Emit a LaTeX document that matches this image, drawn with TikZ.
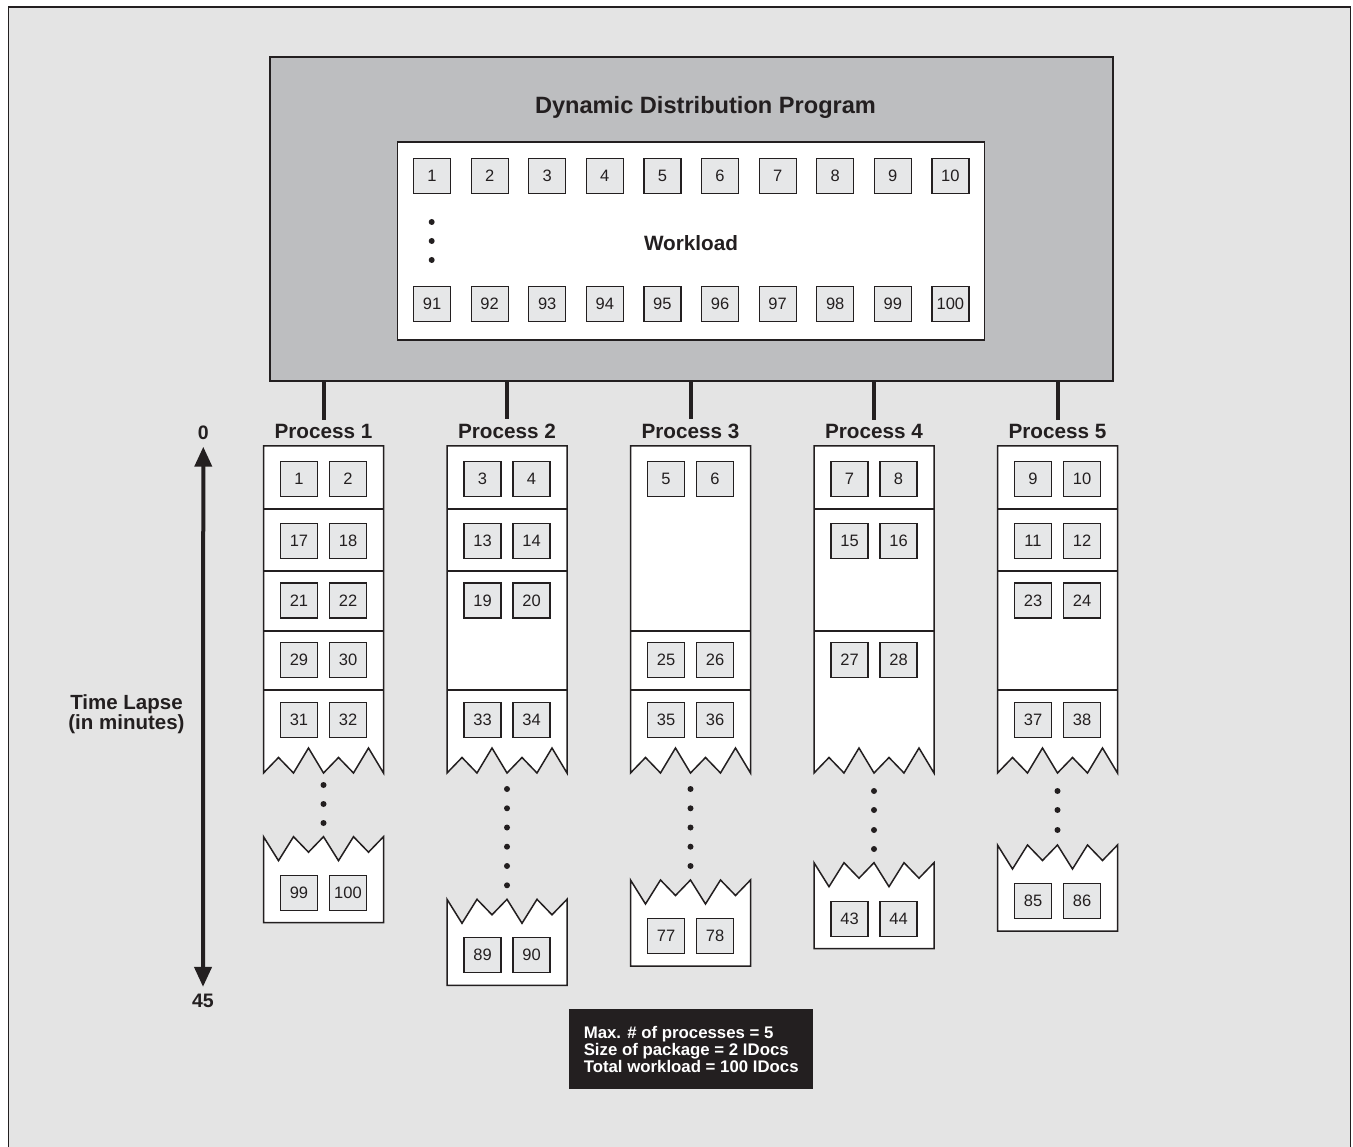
\documentclass[tikz,border=0pt]{standalone}
\usepackage{fontspec}
\setmainfont{Liberation Sans}
\definecolor{colorFrame}{HTML}{E4E4E4}
\definecolor{colorProgram}{HTML}{BDBEC0}
\definecolor{colorPacket}{HTML}{E6E7E8}
\definecolor{colorInk}{HTML}{231F20}
\usetikzlibrary{arrows.meta, positioning}
\tikzset{tearup/.style={insert path={-- ++(-15,-25) -- ++(-15,25) -- ++(-15,-15.5) -- ++(-15,15.5) -- ++(-15,-25) -- ++(-15,25) -- ++(-15,-15.5) -- ++(-15,15.5)}}}
\tikzset{teardown/.style={insert path={-- ++(15,24) -- ++(15,-24) -- ++(15,15.5) -- ++(15,-15.5) -- ++(15,24) -- ++(15,-24) -- ++(15,15.5) -- ++(15,-15.5)}}}
\begin{document}
\begin{tikzpicture}[x=1pt, y=-1pt, >={Triangle[length=20pt, width=17pt]}, line join=miter,
  frame/.style={draw=colorInk, line width=1.8pt},
  prog/.style={draw=colorInk, fill=colorProgram, line width=1.5pt, minimum width=843pt, minimum height=324pt},
  wlbox/.style={draw=colorInk, fill=white, line width=1.5pt, minimum width=587pt, minimum height=198pt},
  heading/.style={text=colorInk, font=\fontsize{20.7}{24}\selectfont\bfseries, inner sep=5pt},
  pkt/.style={draw=colorInk, fill=colorPacket, line width=1.2pt, minimum width=37pt, minimum height=35pt, inner sep=0pt, outer sep=0pt, text=colorInk, font=\fontsize{16.5}{18}\selectfont},
  paper/.style={draw=colorInk, fill=white, line width=1.5pt},
  divider/.style={draw=colorInk, line width=1.5pt},
  link/.style={draw=colorInk, line width=4pt},
  timeaxis/.style={draw=colorInk, line width=4pt},
  axislabel/.style={text=colorInk, font=\fontsize{19.5}{18}\selectfont\bfseries, inner sep=7pt},
  infobox/.style={fill=colorInk, text=white, minimum width=244pt, minimum height=80pt, align=left, font=\fontsize{16.8}{17.3}\selectfont\bfseries}]
\useasboundingbox (0,0) rectangle (1353,1147);
\fill[colorFrame] (8.5,6.7) rectangle (1350.5,1147);
\draw[frame] (8.5,1147) -- (8.5,6.7) -- (1350.5,6.7) -- (1350.5,1147);
\node[prog] (prog) at (691.5,219) {};
\node[heading, font=\fontsize{23.6}{26}\selectfont\bfseries, anchor=base] (title) at (705.5,114) {Dynamic Distribution Program};
\node[wlbox] (wl) at (691.2,240.9) {};
\node[heading, anchor=base] (wltext) at (691,251) {Workload};
\node[pkt] (w1) at (432,176) {1};
\node[pkt, right=20.6pt of w1] (w2) {2};
\node[pkt, right=20.6pt of w2] (w3) {3};
\node[pkt, right=20.6pt of w3] (w4) {4};
\node[pkt, right=20.6pt of w4] (w5) {5};
\node[pkt, right=20.6pt of w5] (w6) {6};
\node[pkt, right=20.6pt of w6] (w7) {7};
\node[pkt, right=20.6pt of w7] (w8) {8};
\node[pkt, right=20.6pt of w8] (w9) {9};
\node[pkt, right=20.6pt of w9] (w10) {10};
\fill[colorInk] (431.7,222) circle (3pt) (431.7,241) circle (3pt) (431.7,260) circle (3pt);
\node[pkt] (w91) at (432,304) {91};
\node[pkt, right=20.6pt of w91] (w92) {92};
\node[pkt, right=20.6pt of w92] (w93) {93};
\node[pkt, right=20.6pt of w93] (w94) {94};
\node[pkt, right=20.6pt of w94] (w95) {95};
\node[pkt, right=20.6pt of w95] (w96) {96};
\node[pkt, right=20.6pt of w96] (w97) {97};
\node[pkt, right=20.6pt of w97] (w98) {98};
\node[pkt, right=20.6pt of w98] (w99) {99};
\node[pkt, right=20.6pt of w99] (w100) {100};
\node[heading, anchor=base] (h1) at (323.5,439) {Process 1};
\node[heading, anchor=base] (h2) at (507,439) {Process 2};
\node[heading, anchor=base] (h3) at (690.5,439) {Process 3};
\node[heading, anchor=base] (h4) at (874,439) {Process 4};
\node[heading, anchor=base] (h5) at (1057.5,439) {Process 5};
\draw[link] (prog.south -| h1) -- (h1.north);
\draw[link] (prog.south -| h2) -- (h2.north);
\draw[link] (prog.south -| h3) -- (h3.north);
\draw[link] (prog.south -| h4) -- (h4.north);
\draw[link] (prog.south -| h5) -- (h5.north);
\draw[paper] (263.5,446) -- (383.5,446) -- (383.5,773) [tearup] -- cycle;
\draw[divider] (263.5,509) -- ++(120,0) (263.5,571) -- ++(120,0) (263.5,631) -- ++(120,0) (263.5,690) -- ++(120,0);
\node[pkt] (d1) at (299,479) {1};
\node[pkt, right=12pt of d1] (d2) {2};
\node[pkt] (d17) at (299,541) {17};
\node[pkt, right=12pt of d17] (d18) {18};
\node[pkt] (d21) at (299,600.5) {21};
\node[pkt, right=12pt of d21] (d22) {22};
\node[pkt] (d29) at (299,660) {29};
\node[pkt, right=12pt of d29] (d30) {30};
\node[pkt] (d31) at (299,720) {31};
\node[pkt, right=12pt of d31] (d32) {32};
\fill[colorInk] (323.5,785) circle (3pt) (323.5,804) circle (3pt) (323.5,823) circle (3pt);
\draw[paper] (263.5,836.7) [teardown] -- (383.5,922.7) -- (263.5,922.7) -- cycle;
\node[pkt] (d99) at (299,892.7) {99};
\node[pkt, right=12pt of d99] (d100) {100};
\draw[paper] (447,446) -- (567,446) -- (567,773) [tearup] -- cycle;
\draw[divider] (447,509) -- ++(120,0) (447,571) -- ++(120,0) (447,690) -- ++(120,0);
\node[pkt] (d3) at (482.5,479) {3};
\node[pkt, right=12pt of d3] (d4) {4};
\node[pkt] (d13) at (482.5,541) {13};
\node[pkt, right=12pt of d13] (d14) {14};
\node[pkt] (d19) at (482.5,600.5) {19};
\node[pkt, right=12pt of d19] (d20) {20};
\node[pkt] (d33) at (482.5,720) {33};
\node[pkt, right=12pt of d33] (d34) {34};
\fill[colorInk] (507,789) circle (3pt) (507,808.3) circle (3pt) (507,827.5) circle (3pt) (507,846.7) circle (3pt) (507,866) circle (3pt) (507,885.3) circle (3pt);
\draw[paper] (447,899.3) [teardown] -- (567,985.3) -- (447,985.3) -- cycle;
\node[pkt] (d89) at (482.5,955.3) {89};
\node[pkt, right=12pt of d89] (d90) {90};
\draw[paper] (630.5,446) -- (750.5,446) -- (750.5,773) [tearup] -- cycle;
\draw[divider] (630.5,631) -- ++(120,0) (630.5,690) -- ++(120,0);
\node[pkt] (d5) at (666,479) {5};
\node[pkt, right=12pt of d5] (d6) {6};
\node[pkt] (d25) at (666,660) {25};
\node[pkt, right=12pt of d25] (d26) {26};
\node[pkt] (d35) at (666,720) {35};
\node[pkt, right=12pt of d35] (d36) {36};
\fill[colorInk] (690.5,789) circle (3pt) (690.5,808.3) circle (3pt) (690.5,827.5) circle (3pt) (690.5,846.7) circle (3pt) (690.5,866) circle (3pt);
\draw[paper] (630.5,880) [teardown] -- (750.5,966) -- (630.5,966) -- cycle;
\node[pkt] (d77) at (666,936) {77};
\node[pkt, right=12pt of d77] (d78) {78};
\draw[paper] (814,446) -- (934,446) -- (934,773) [tearup] -- cycle;
\draw[divider] (814,509) -- ++(120,0) (814,631) -- ++(120,0);
\node[pkt] (d7) at (849.5,479) {7};
\node[pkt, right=12pt of d7] (d8) {8};
\node[pkt] (d15) at (849.5,541) {15};
\node[pkt, right=12pt of d15] (d16) {16};
\node[pkt] (d27) at (849.5,660) {27};
\node[pkt, right=12pt of d27] (d28) {28};
\fill[colorInk] (874,791) circle (3pt) (874,810) circle (3pt) (874,830) circle (3pt) (874,849) circle (3pt);
\draw[paper] (814,862.7) [teardown] -- (934,948.7) -- (814,948.7) -- cycle;
\node[pkt] (d43) at (849.5,918.7) {43};
\node[pkt, right=12pt of d43] (d44) {44};
\draw[paper] (997.5,446) -- (1117.5,446) -- (1117.5,773) [tearup] -- cycle;
\draw[divider] (997.5,509) -- ++(120,0) (997.5,571) -- ++(120,0) (997.5,690) -- ++(120,0);
\node[pkt] (d9) at (1033,479) {9};
\node[pkt, right=12pt of d9] (d10) {10};
\node[pkt] (d11) at (1033,541) {11};
\node[pkt, right=12pt of d11] (d12) {12};
\node[pkt] (d23) at (1033,600.5) {23};
\node[pkt, right=12pt of d23] (d24) {24};
\node[pkt] (d37) at (1033,720) {37};
\node[pkt, right=12pt of d37] (d38) {38};
\fill[colorInk] (1057.5,791) circle (3pt) (1057.5,810) circle (3pt) (1057.5,830) circle (3pt);
\draw[paper] (997.5,845) [teardown] -- (1117.5,931) -- (997.5,931) -- cycle;
\node[pkt] (d85) at (1033,901) {85};
\node[pkt, right=12pt of d85] (d86) {86};
\node[axislabel, anchor=base] (tzero) at (203.3,439.3) {0};
\node[axislabel, anchor=base] (tend) at (203,1007.5) {45};
\draw[timeaxis, <->] (tzero) -- (tend);
\node[axislabel, align=center, inner sep=0pt, font=\fontsize{20.5}{18}\selectfont\bfseries] (tlapse) at (126.5,714.5) {Time Lapse\\(in minutes)};
\node[infobox] (info) at (691.2,1049.3) {Max. \# of processes = 5\\Size of package = 2 IDocs\\Total workload = 100 IDocs};
\end{tikzpicture}
\end{document}
